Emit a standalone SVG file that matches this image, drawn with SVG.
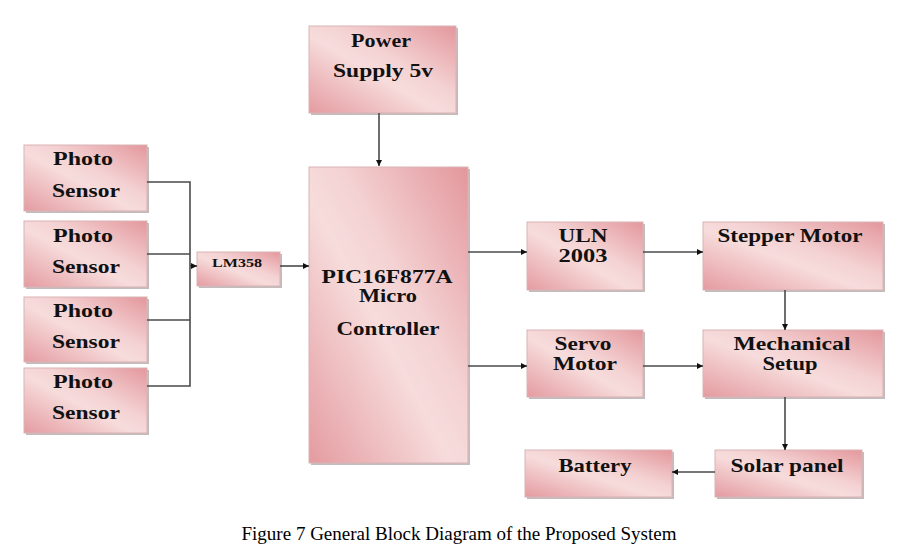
<svg xmlns="http://www.w3.org/2000/svg" width="901" height="556" viewBox="0 0 901 556">
<style>
.box{fill:url(#pk);stroke:#d9b3b5;stroke-width:1}
.sh{fill:#a9a0a0;opacity:0.7}
.t{font-family:"Liberation Serif","Times New Roman",serif;font-weight:bold;font-size:19px;fill:#111;text-anchor:middle}
.s{font-size:13px}
.ln{stroke:#4a4a4a;stroke-width:1.6;fill:none}
.ar{stroke:#4a4a4a;stroke-width:1.6;fill:none;marker-end:url(#ah)}
.cap{font-family:"Liberation Serif","Times New Roman",serif;font-size:19px;fill:#000;text-anchor:middle}
</style>
<defs>
<linearGradient id="pk" x1="0" y1="1" x2="1" y2="0">
<stop offset="0" stop-color="#e49ba0"/>
<stop offset="0.45" stop-color="#f7dcdc"/>
<stop offset="0.6" stop-color="#f4d2d3"/>
<stop offset="1" stop-color="#e3979c"/>
</linearGradient>
<marker id="ah" viewBox="0 0 10 10" refX="10" refY="5" markerWidth="6" markerHeight="6" markerUnits="userSpaceOnUse" orient="auto">
<path d="M0,0 L10,5 L0,10 z" fill="#111"/>
</marker>
</defs>
<rect width="901" height="556" fill="#fff"/>

<g id="power">
<rect class="sh" x="311" y="28" width="147" height="87"/>
<rect class="box" x="309" y="26" width="147" height="87"/>
<text class="t" x="381" y="47" textLength="60" lengthAdjust="spacingAndGlyphs">Power</text>
<text class="t" x="383" y="77" textLength="100" lengthAdjust="spacingAndGlyphs">Supply 5v</text>
</g>

<g id="pic">
<rect class="sh" x="311" y="169" width="159" height="296"/>
<rect class="box" x="309" y="167" width="159" height="296"/>
<text class="t" x="387" y="283" textLength="131" lengthAdjust="spacingAndGlyphs">PIC16F877A</text>
<text class="t" x="388" y="302" textLength="58" lengthAdjust="spacingAndGlyphs">Micro</text>
<text class="t" x="388" y="335" textLength="103" lengthAdjust="spacingAndGlyphs">Controller</text>
</g>

<g id="photo1">
<rect class="sh" x="26" y="147" width="123" height="66"/>
<rect class="box" x="24" y="145" width="123" height="66"/>
<text class="t" x="83" y="165" textLength="60" lengthAdjust="spacingAndGlyphs">Photo</text>
<text class="t" x="86" y="197" textLength="68" lengthAdjust="spacingAndGlyphs">Sensor</text>
</g>
<g id="photo2">
<rect class="sh" x="26" y="223" width="123" height="66"/>
<rect class="box" x="24" y="221" width="123" height="66"/>
<text class="t" x="83" y="242" textLength="60" lengthAdjust="spacingAndGlyphs">Photo</text>
<text class="t" x="86" y="273" textLength="68" lengthAdjust="spacingAndGlyphs">Sensor</text>
</g>
<g id="photo3">
<rect class="sh" x="26" y="299" width="123" height="65"/>
<rect class="box" x="24" y="297" width="123" height="65"/>
<text class="t" x="83" y="317" textLength="60" lengthAdjust="spacingAndGlyphs">Photo</text>
<text class="t" x="86" y="348" textLength="68" lengthAdjust="spacingAndGlyphs">Sensor</text>
</g>
<g id="photo4">
<rect class="sh" x="26" y="370" width="123" height="65"/>
<rect class="box" x="24" y="368" width="123" height="65"/>
<text class="t" x="83" y="388" textLength="60" lengthAdjust="spacingAndGlyphs">Photo</text>
<text class="t" x="86" y="419" textLength="68" lengthAdjust="spacingAndGlyphs">Sensor</text>
</g>

<g id="lm358">
<rect class="sh" x="199" y="254" width="83" height="34"/>
<rect class="box" x="197" y="252" width="83" height="34"/>
<text class="t s" x="237" y="267" textLength="50" lengthAdjust="spacingAndGlyphs">LM358</text>
</g>

<g id="uln">
<rect class="sh" x="529" y="224" width="116" height="68"/>
<rect class="box" x="527" y="222" width="116" height="68"/>
<text class="t" x="583" y="242" textLength="49" lengthAdjust="spacingAndGlyphs">ULN</text>
<text class="t" x="583" y="262" textLength="49" lengthAdjust="spacingAndGlyphs">2003</text>
</g>

<g id="stepper">
<rect class="sh" x="705" y="224" width="180" height="68"/>
<rect class="box" x="703" y="222" width="180" height="68"/>
<text class="t" x="790" y="242" textLength="145" lengthAdjust="spacingAndGlyphs">Stepper Motor</text>
</g>

<g id="servo">
<rect class="sh" x="529" y="332" width="116" height="67"/>
<rect class="box" x="527" y="330" width="116" height="67"/>
<text class="t" x="583" y="350" textLength="57" lengthAdjust="spacingAndGlyphs">Servo</text>
<text class="t" x="585" y="370" textLength="64" lengthAdjust="spacingAndGlyphs">Motor</text>
</g>

<g id="mechanical">
<rect class="sh" x="705" y="332" width="180" height="67"/>
<rect class="box" x="703" y="330" width="180" height="67"/>
<text class="t" x="792" y="350" textLength="117" lengthAdjust="spacingAndGlyphs">Mechanical</text>
<text class="t" x="790" y="370" textLength="55" lengthAdjust="spacingAndGlyphs">Setup</text>
</g>

<g id="solar">
<rect class="sh" x="717" y="452" width="147" height="47"/>
<rect class="box" x="715" y="450" width="147" height="47"/>
<text class="t" x="787" y="472" textLength="113" lengthAdjust="spacingAndGlyphs">Solar panel</text>
</g>

<g id="battery">
<rect class="sh" x="527" y="452" width="147" height="47"/>
<rect class="box" x="525" y="450" width="147" height="47"/>
<text class="t" x="595" y="472" textLength="73" lengthAdjust="spacingAndGlyphs">Battery</text>
</g>

<g id="connectors">
<line class="ar" x1="379" y1="113" x2="379" y2="166"/>
<polyline class="ln" points="147,182 190,182 190,386 147,386"/>
<line class="ln" x1="147" y1="254" x2="190" y2="254"/>
<line class="ln" x1="147" y1="320" x2="190" y2="320"/>
<line class="ar" x1="190" y1="266" x2="197" y2="266"/>
<line class="ar" x1="280" y1="266" x2="309" y2="266"/>
<line class="ar" x1="468" y1="252" x2="527" y2="252"/>
<line class="ar" x1="468" y1="366" x2="527" y2="366"/>
<line class="ar" x1="643" y1="252" x2="703" y2="252"/>
<line class="ar" x1="643" y1="366" x2="703" y2="366"/>
<line class="ar" x1="785" y1="290" x2="785" y2="330"/>
<line class="ar" x1="785" y1="397" x2="785" y2="450"/>
<line class="ar" x1="715" y1="472" x2="672" y2="472"/>
</g>

<text class="cap" x="459" y="540" textLength="435">Figure 7 General Block Diagram of the Proposed System</text>
</svg>
